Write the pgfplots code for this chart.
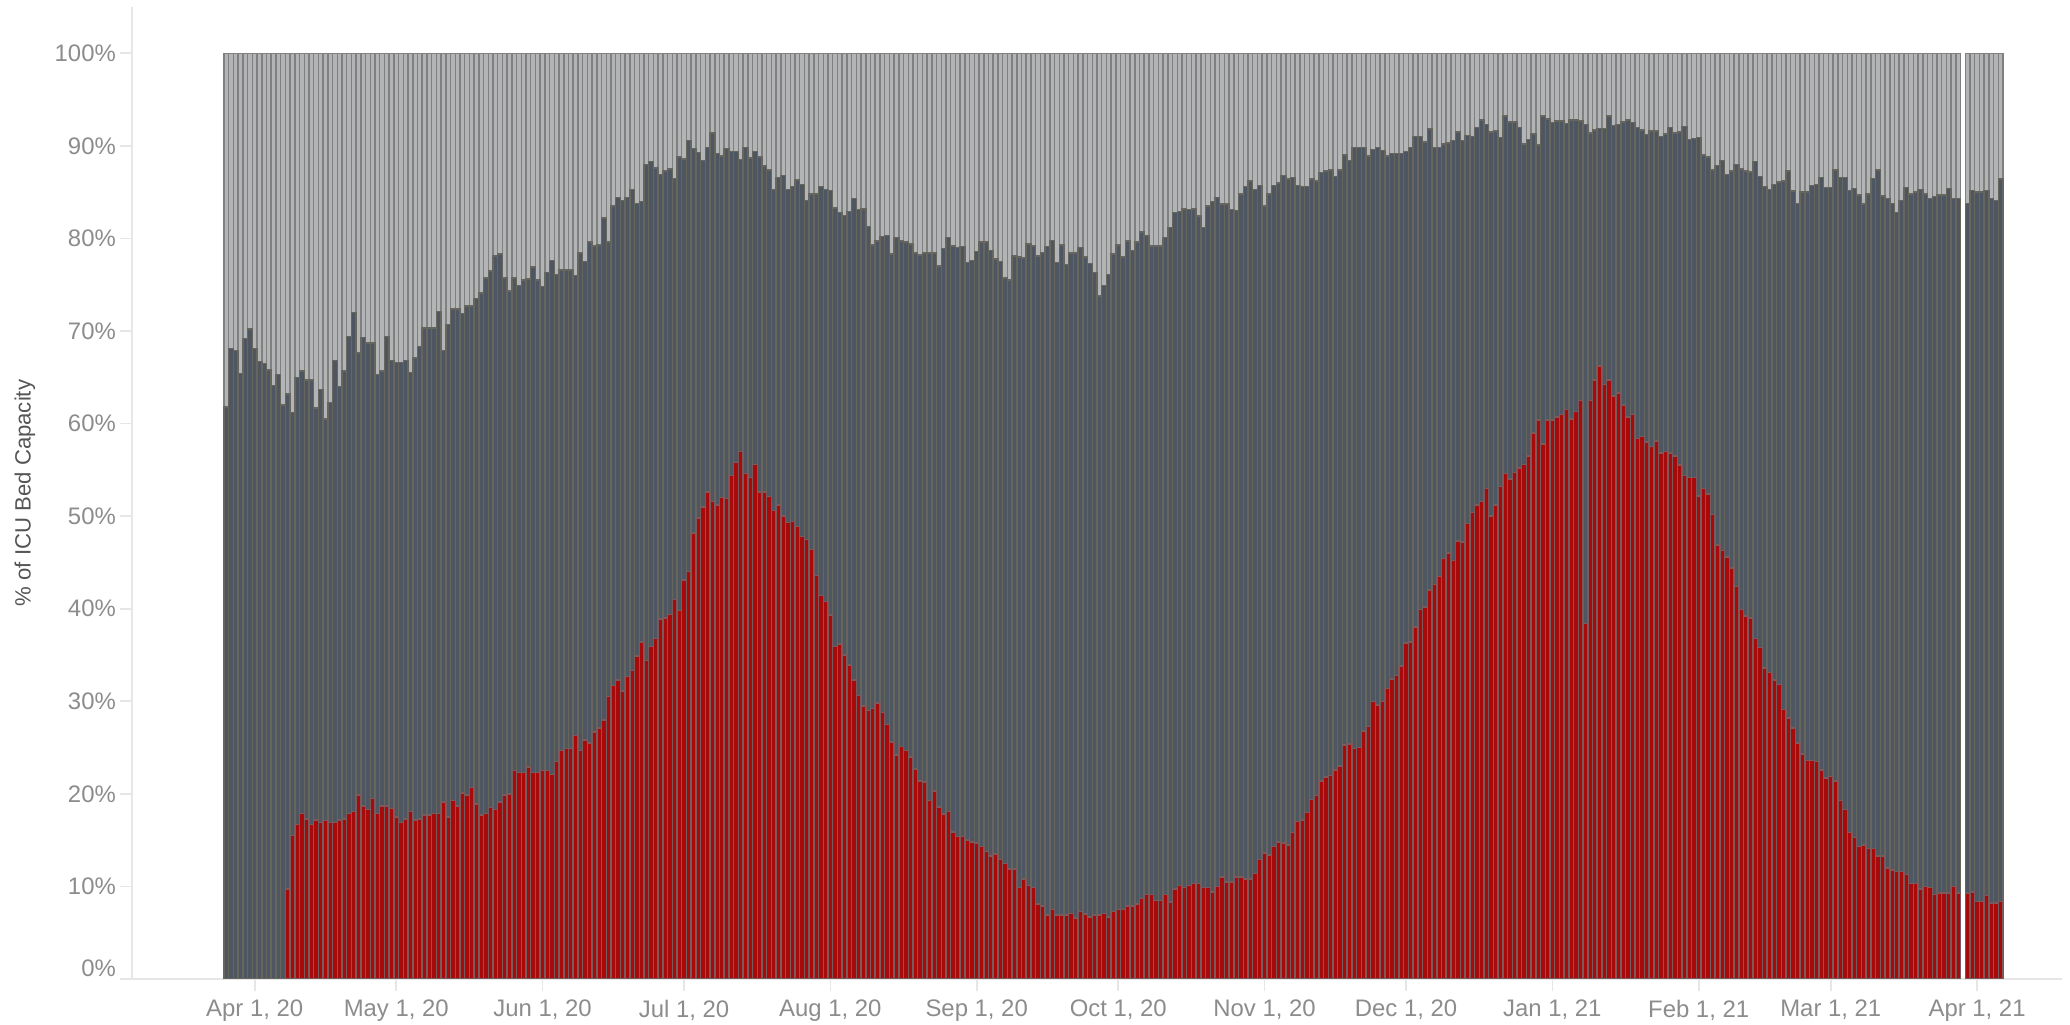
\documentclass[border=0pt]{standalone}
\usepackage{fontspec}
\setmainfont{Liberation Sans}
\usepackage{pgfplots}
\pgfplotsset{compat=1.18}
\usepackage{pgfplotstable}
\definecolor{availc}{HTML}{B2B4B6}
\definecolor{availedge}{HTML}{7F8080}
\definecolor{occc}{HTML}{4E5661}
\definecolor{occedge}{HTML}{66665F}
\definecolor{covc}{HTML}{A60A0A}
\definecolor{covedge}{HTML}{7A5A5A}
\definecolor{axisc}{HTML}{E6E6E6}
\definecolor{labc}{HTML}{8C8C8C}
\definecolor{titc}{HTML}{555555}

\pgfplotstableread{
d cov occ cap
-6 nan 61.8 100
-5 nan 68.1 100
-4 nan 67.9 100
-3 nan 65.4 100
-2 nan 69.2 100
-1 nan 70.2 100
0 nan 68.1 100
1 nan 66.7 100
2 nan 66.5 100
3 nan 65.8 100
4 nan 64.1 100
5 nan 65.3 100
6 nan 62.0 100
7 9.7 63.2 100
8 15.5 61.2 100
9 16.7 65.0 100
10 17.9 65.7 100
11 17.3 64.7 100
12 16.7 64.7 100
13 17.2 61.7 100
14 16.9 63.7 100
15 17.1 60.5 100
16 16.9 62.3 100
17 16.9 66.8 100
18 17.2 64.0 100
19 17.3 65.7 100
20 17.9 69.4 100
21 18.1 72.0 100
22 19.9 67.6 100
23 18.7 69.3 100
24 18.3 68.7 100
25 19.5 68.7 100
26 17.9 65.3 100
27 18.7 65.7 100
28 18.7 69.4 100
29 18.4 66.8 100
30 17.5 66.6 100
31 16.9 66.6 100
32 17.3 66.8 100
33 18.1 65.5 100
34 17.2 67.1 100
35 17.3 68.3 100
36 17.7 70.3 100
37 17.7 70.3 100
38 17.9 70.3 100
39 17.9 72.1 100
40 19.1 67.9 100
41 17.5 70.7 100
42 19.3 72.4 100
43 18.7 72.4 100
44 20.1 71.9 100
45 19.9 72.7 100
46 20.7 72.7 100
47 18.9 73.5 100
48 17.7 74.1 100
49 17.9 75.7 100
50 18.5 76.5 100
51 18.3 78.1 100
52 19.1 78.3 100
53 19.9 75.7 100
54 20.0 74.3 100
55 22.5 75.7 100
56 22.3 74.9 100
57 22.3 75.5 100
58 22.9 75.6 100
59 22.3 76.9 100
60 22.3 75.5 100
61 22.5 74.8 100
62 22.5 76.3 100
63 22.1 77.6 100
64 23.5 76.1 100
65 24.7 76.6 100
66 24.9 76.6 100
67 24.9 76.6 100
68 26.3 76.0 100
69 24.7 78.4 100
70 25.8 77.5 100
71 25.5 79.6 100
72 26.7 79.2 100
73 27.1 79.3 100
74 28.0 82.2 100
75 30.5 79.6 100
76 31.7 83.5 100
77 32.3 84.4 100
78 31.1 84.1 100
79 32.7 84.4 100
80 33.3 85.3 100
81 34.9 83.8 100
82 36.4 84.0 100
83 34.4 88.0 100
84 35.9 88.3 100
85 36.8 87.6 100
86 38.9 86.9 100
87 39.0 87.3 100
88 39.4 87.5 100
89 41.0 86.5 100
90 39.8 88.8 100
91 43.1 88.6 100
92 44.0 90.6 100
93 48.2 89.7 100
94 49.8 89.3 100
95 51.0 88.4 100
96 52.6 89.8 100
97 51.6 91.4 100
98 51.2 89.2 100
99 52.0 88.9 100
100 51.9 89.7 100
101 54.4 89.4 100
102 55.8 89.4 100
103 57.0 88.5 100
104 54.6 89.8 100
105 54.2 88.7 100
106 55.6 89.4 100
107 52.6 88.8 100
108 52.6 87.8 100
109 52.1 87.4 100
110 50.6 85.3 100
111 51.2 86.6 100
112 50.0 86.8 100
113 49.3 85.3 100
114 49.4 85.6 100
115 48.9 86.3 100
116 47.8 85.8 100
117 47.5 84.1 100
118 46.4 84.8 100
119 43.6 84.8 100
120 41.4 85.6 100
121 40.8 85.3 100
122 39.3 85.2 100
123 35.9 83.3 100
124 36.2 82.8 100
125 35.0 82.5 100
126 33.9 82.9 100
127 32.3 84.3 100
128 30.6 83.1 100
129 29.5 83.2 100
130 29.0 81.3 100
131 29.2 79.3 100
132 29.8 79.7 100
133 28.8 80.2 100
134 27.5 80.3 100
135 25.6 78.3 100
136 24.2 80.1 100
137 25.1 79.7 100
138 24.7 79.6 100
139 24.0 79.4 100
140 22.7 78.4 100
141 21.4 78.2 100
142 21.3 78.4 100
143 19.3 78.4 100
144 20.3 78.4 100
145 18.6 77.0 100
146 17.8 78.9 100
147 18.1 80.1 100
148 15.9 79.2 100
149 15.4 79.0 100
150 15.4 79.1 100
151 15.0 77.4 100
152 14.8 77.6 100
153 14.7 78.6 100
154 14.3 79.6 100
155 13.8 79.6 100
156 13.3 78.7 100
157 13.5 77.8 100
158 12.9 77.5 100
159 12.5 75.7 100
160 11.9 75.5 100
161 11.9 78.1 100
162 9.9 78.0 100
163 10.8 77.9 100
164 10.1 79.4 100
165 9.9 79.2 100
166 8.1 78.1 100
167 7.9 78.5 100
168 6.9 79.1 100
169 7.5 79.8 100
170 6.9 77.4 100
171 6.9 79.3 100
172 6.9 77.2 100
173 7.1 78.4 100
174 6.6 78.4 100
175 7.3 79.0 100
176 7.0 78.0 100
177 6.7 77.3 100
178 6.9 76.3 100
179 6.9 73.8 100
180 7.1 74.9 100
181 6.7 76.1 100
182 7.3 78.3 100
183 7.5 79.3 100
184 7.5 78.0 100
185 7.9 79.7 100
186 7.9 78.7 100
187 8.1 79.6 100
188 8.7 80.7 100
189 9.1 80.3 100
190 9.1 79.2 100
191 8.5 79.2 100
192 8.5 79.2 100
193 9.1 80.1 100
194 8.3 81.2 100
195 9.7 82.8 100
196 10.1 82.9 100
197 9.9 83.2 100
198 10.1 83.1 100
199 10.3 83.2 100
200 10.3 82.4 100
201 9.9 81.2 100
202 9.9 83.5 100
203 9.4 84.0 100
204 10.0 84.4 100
205 11.0 83.7 100
206 10.5 83.7 100
207 10.5 83.1 100
208 11.0 83.0 100
209 11.0 84.8 100
210 10.8 85.6 100
211 10.8 86.2 100
212 11.4 85.3 100
213 12.9 85.7 100
214 13.6 83.5 100
215 13.4 84.8 100
216 14.3 85.7 100
217 14.8 86.0 100
218 14.7 86.8 100
219 14.5 86.4 100
220 15.8 86.6 100
221 17.0 85.7 100
222 17.2 85.6 100
223 18.0 85.6 100
224 19.4 86.4 100
225 19.8 86.2 100
226 21.4 87.1 100
227 21.8 87.3 100
228 22.0 87.4 100
229 22.6 86.7 100
230 23.0 87.4 100
231 25.3 89.0 100
232 25.4 88.4 100
233 24.9 89.8 100
234 25.0 89.8 100
235 26.8 89.8 100
236 27.3 88.9 100
237 30.0 89.6 100
238 29.6 89.8 100
239 30.0 89.5 100
240 31.4 88.9 100
241 32.4 89.2 100
242 32.8 89.2 100
243 33.8 89.2 100
244 36.3 89.4 100
245 36.4 89.8 100
246 38.0 91.0 100
247 39.9 91.0 100
248 40.2 90.4 100
249 42.0 91.8 100
250 42.6 89.8 100
251 43.5 89.8 100
252 45.4 90.2 100
253 46.0 90.3 100
254 45.2 90.6 100
255 47.3 91.5 100
256 47.2 90.6 100
257 49.2 91.1 100
258 50.4 91.0 100
259 51.2 92.0 100
260 51.6 92.8 100
261 53.0 92.3 100
262 50.0 91.5 100
263 51.2 91.6 100
264 53.2 90.9 100
265 54.6 93.2 100
266 54.0 92.6 100
267 54.7 92.6 100
268 55.2 92.0 100
269 55.6 90.2 100
270 56.5 90.7 100
271 59.0 91.3 100
272 60.4 90.1 100
273 57.8 93.2 100
274 60.4 92.9 100
275 60.4 92.5 100
276 60.7 92.7 100
277 61.0 92.7 100
278 61.5 92.4 100
279 60.5 92.8 100
280 61.3 92.8 100
281 62.5 92.7 100
282 38.4 92.3 100
283 62.5 91.4 100
284 64.7 91.7 100
285 66.2 91.9 100
286 64.2 91.9 100
287 64.7 93.2 100
288 63.0 92.2 100
289 63.3 92.3 100
290 62.0 92.6 100
291 60.7 92.8 100
292 61.0 92.5 100
293 58.4 92.0 100
294 58.6 91.7 100
295 58.0 91.2 100
296 57.5 91.6 100
297 58.1 91.6 100
298 56.8 91.0 100
299 57.0 91.3 100
300 56.8 92.0 100
301 56.5 91.4 100
302 55.5 91.5 100
303 54.4 92.1 100
304 54.2 90.7 100
305 54.2 90.8 100
306 52.2 90.9 100
307 53.0 89.0 100
308 52.4 88.8 100
309 50.2 87.4 100
310 46.9 87.9 100
311 46.3 88.4 100
312 45.6 86.9 100
313 44.4 87.3 100
314 42.4 88.0 100
315 39.9 87.5 100
316 39.2 87.3 100
317 39.0 87.2 100
318 36.8 88.3 100
319 35.8 86.7 100
320 33.6 85.6 100
321 33.1 85.3 100
322 32.3 85.8 100
323 31.8 86.1 100
324 29.1 86.2 100
325 28.2 87.3 100
326 27.1 85.1 100
327 25.5 83.8 100
328 24.3 85.0 100
329 23.6 85.0 100
330 23.6 85.7 100
331 23.5 85.8 100
332 22.6 86.6 100
333 21.7 85.5 100
334 21.9 85.5 100
335 21.4 87.4 100
336 19.3 86.6 100
337 18.3 86.6 100
338 15.8 85.2 100
339 15.3 85.4 100
340 14.3 84.7 100
341 14.5 83.7 100
342 14.1 84.8 100
343 14.1 86.5 100
344 13.3 87.4 100
345 13.3 84.6 100
346 12.0 84.3 100
347 11.8 83.8 100
348 11.6 82.8 100
349 11.6 84.1 100
350 11.3 85.5 100
351 10.3 84.8 100
352 10.3 85.0 100
353 9.7 85.3 100
354 10.0 84.8 100
355 9.9 84.3 100
356 9.1 84.5 100
357 9.3 84.7 100
358 9.3 84.7 100
359 9.3 85.4 100
360 10.0 84.3 100
361 9.3 84.3 100
363 9.3 83.8 100
364 9.4 85.2 100
365 8.4 85.0 100
366 8.4 85.0 100
367 9.0 85.2 100
368 8.2 84.3 100
369 8.2 84.1 100
370 8.4 86.4 100
}\icu

\begin{document}
\begin{tikzpicture}
\useasboundingbox (0,0) rectangle (20.7cm,10.25cm);
\begin{axis}[
  at={(1.32cm,0.46cm)}, anchor=south west,
  scale only axis, width=19.30cm, height=9.72cm,
  xmin=-26, xmax=383, ymin=0, ymax=105,
  axis x line*=bottom, axis y line*=left,
  axis line style={draw=axisc, line width=0.5pt},
  xtick={0,30,61,91,122,153,183,214,244,275,306,334,365},
  xticklabels={{Apr 1, 20},{May 1, 20},{Jun 1, 20},{Jul 1, 20},{Aug 1, 20},{Sep 1, 20},{Oct 1, 20},{Nov 1, 20},{Dec 1, 20},{Jan 1, 21},{Feb 1, 21},{Mar 1, 21},{Apr 1, 21}},
  ytick={0,10,...,100},
  yticklabel={\pgfmathtruncatemacro{\tv}{round(\tick)}\ifnum\tv=0 \raisebox{6pt}{0\%}\else\tv\%\fi},
  tick align=outside, major tick length=3.4pt,
  tick style={draw=axisc, line width=0.5pt},
  ticklabel style={text=labc, font=\fontsize{6.8}{8}\selectfont},
  yticklabel style={inner sep=1pt},
  xticklabel style={yshift=1pt},
  /pgf/number format/assume math mode=true,
  ylabel={\% of ICU Bed Capacity},
  every axis y label/.style={at={([xshift=-1.07cm]axis description cs:0,0.5)}, rotate=90, anchor=center, text=titc, font=\fontsize{6.3}{8}\selectfont},
  ybar, bar width=1,
  every axis plot/.append style={bar shift=0pt, line width=0.42pt},
]
\addplot[fill=availc, draw=availedge] table[x=d,y=cap]{\icu};
\addplot[fill=occc, draw=occedge] table[x=d,y=occ]{\icu};
\addplot[fill=covc, draw=covedge] table[x=d,y=cov]{\icu};
\end{axis}
\end{tikzpicture}
\end{document}
